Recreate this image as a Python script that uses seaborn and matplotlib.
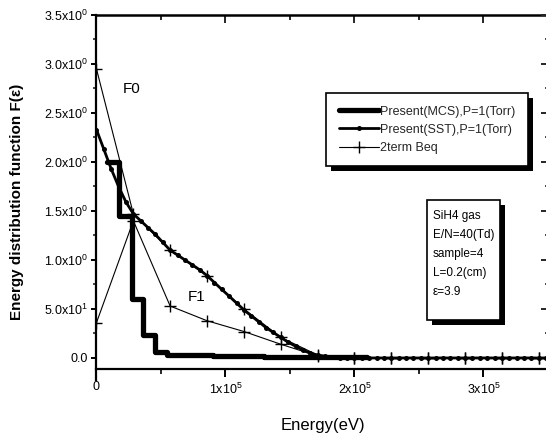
import matplotlib
matplotlib.use('Agg')
import matplotlib.pyplot as plt
import matplotlib.patheffects as pe
from matplotlib.patches import Rectangle
from matplotlib.ticker import MultipleLocator, FixedLocator
import seaborn as sns

# energy axis is in units of 1e5 eV (as on the tick labels)

# Present(MCS) histogram, step edges and heights
mcs_energy = [0.083, 0.176, 0.276, 0.364, 0.457, 0.55, 0.9, 1.3, 1.7, 2.1]
mcs_f = [2.0, 1.45, 0.6, 0.23, 0.065, 0.035, 0.025, 0.012, 0.005, 0.005]

# Present(SST)
sst_energy = [0.0, 0.057, 0.114, 0.171, 0.229, 0.286, 0.343, 0.400, 0.457, 0.514,
              0.571, 0.629, 0.686, 0.743, 0.800, 0.857, 0.914, 0.971, 1.029, 1.086,
              1.143, 1.200, 1.257, 1.314, 1.371, 1.429, 1.486, 1.543, 1.600, 1.657,
              1.714, 1.771, 1.829, 1.886, 1.943, 2.000, 2.057, 2.114, 2.171, 2.229,
              2.286, 2.343, 2.400, 2.457, 2.514, 2.571, 2.629, 2.686, 2.743, 2.800,
              2.857, 2.914, 2.971, 3.029, 3.086, 3.143, 3.200, 3.257, 3.314, 3.371,
              3.429, 3.486]
sst_f = [2.33, 2.13, 1.93, 1.75, 1.59, 1.47, 1.40, 1.33, 1.26, 1.18,
         1.10, 1.05, 1.00, 0.95, 0.90, 0.84, 0.77, 0.70, 0.63, 0.56,
         0.49, 0.43, 0.37, 0.31, 0.26, 0.21, 0.16, 0.12, 0.08, 0.05,
         0.03, 0.015, 0.008, 0.004, 0.002, 0.001, 0.0, 0.0, 0.0, 0.0,
         0.0, 0.0, 0.0, 0.0, 0.0, 0.0, 0.0, 0.0, 0.0, 0.0,
         0.0, 0.0, 0.0, 0.0, 0.0, 0.0, 0.0, 0.0, 0.0, 0.0,
         0.0, 0.0]

# 2term Boltzmann equation, F0 and F1
beq_energy = [0.0, 0.286, 0.571, 0.857, 1.143, 1.429, 1.714, 2.0, 2.286, 2.571, 2.857, 3.143, 3.429]
beq_f0 = [2.95, 1.47, 1.10, 0.84, 0.50, 0.21, 0.03, 0.0, 0.0, 0.0, 0.0, 0.0, 0.0]
beq_f1 = [0.36, 1.40, 0.53, 0.38, 0.27, 0.14, 0.02, 0.0, 0.0, 0.0, 0.0, 0.0, 0.0]

legend_labels = ['Present(MCS),P=1(Torr)', 'Present(SST),P=1(Torr)', '2term Beq']
info_lines = ['SiH4 gas', 'E/N=40(Td)', 'sample=4', 'L=0.2(cm)', 'ε=3.9']

y_ticks = [0.0, 0.5, 1.0, 1.5, 2.0, 2.5, 3.0, 3.5]
y_ticklabels = ['0.0', '5.0x10$^{1}$', '1.0x10$^{0}$', '1.5x10$^{0}$', '2.0x10$^{0}$',
                '2.5x10$^{0}$', '3.0x10$^{0}$', '3.5x10$^{0}$']
x_ticks = [0, 1, 2, 3]
x_ticklabels = ['0', '1x10$^{5}$', '2x10$^{5}$', '3x10$^{5}$']

sns.set_theme(style='ticks')
plt.rcParams['font.family'] = ['Liberation Sans', 'DejaVu Sans']
plt.rcParams['mathtext.fontset'] = 'custom'
plt.rcParams['mathtext.rm'] = 'Liberation Sans'
plt.rcParams['mathtext.it'] = 'Liberation Sans'

fig = plt.figure(figsize=(5.46, 4.36), dpi=100)
ax = fig.add_axes([0.1767, 0.1284, 0.8269, 0.8372])

sns.lineplot(x=mcs_energy, y=mcs_f, ax=ax, color='black', lw=3.8,
             drawstyle='steps-post', estimator=None, sort=False)
h_mcs = ax.lines[-1]
sns.lineplot(x=sst_energy, y=sst_f, ax=ax, color='black', lw=2.0, marker='o',
             markersize=3.6, markeredgewidth=0, markerfacecolor='black',
             estimator=None, sort=False)
h_sst = ax.lines[-1]
sns.lineplot(x=beq_energy, y=beq_f0, ax=ax, color='black', lw=0.8, marker='+',
             markersize=8, markeredgewidth=1.0, markeredgecolor='black',
             estimator=None, sort=False)
h_beq = ax.lines[-1]
sns.lineplot(x=beq_energy, y=beq_f1, ax=ax, color='black', lw=0.8, marker='+',
             markersize=8, markeredgewidth=1.0, markeredgecolor='black',
             estimator=None, sort=False)

ax.text(0.20, 2.70, 'F0', fontsize=11, color='black')
ax.text(0.71, 0.58, 'F1', fontsize=11, color='black')

ax.set_xlim(0, 3.5)
ax.set_ylim(-0.225, 3.5)

# spines
for s in ['left', 'bottom']:
    ax.spines[s].set_linewidth(1.6)
    ax.spines[s].set_color('black')
ax.spines['bottom'].set_position(('data', -0.112))
ax.spines['top'].set_visible(False)
ax.spines['right'].set_visible(False)

ax.set_xticks(x_ticks)
ax.set_xticklabels(x_ticklabels)
ax.xaxis.set_minor_locator(FixedLocator([0.5, 1.5, 2.5]))
ax.set_yticks(y_ticks)
ax.set_yticklabels(y_ticklabels)
ax.yaxis.set_minor_locator(MultipleLocator(0.25))
ax.tick_params(axis='x', which='major', direction='out', length=6, width=1.4,
               pad=3, labelsize=9, colors='black', top=False)
ax.tick_params(axis='x', which='minor', direction='out', length=3.5, width=1.4, top=False)
ax.tick_params(axis='y', which='major', direction='out', length=3.6, width=1.4,
               pad=2.5, labelsize=9, colors='black', right=False)
ax.tick_params(axis='y', which='minor', direction='out', length=2.2, width=1.2, right=False)
ax.set_xlabel('')
ax.set_ylabel('')

# top and right axes with inward ticks
top = ax.secondary_xaxis('top')
top.set_xticks(x_ticks[1:])
top.xaxis.set_minor_locator(FixedLocator([0.5, 1.5, 2.5]))
top.tick_params(which='major', direction='in', length=6, width=1.4, labeltop=False)
top.tick_params(which='minor', direction='in', length=3.5, width=1.4)
top.spines['top'].set_linewidth(1.8)
top.spines['top'].set_color('black')

right = ax.secondary_yaxis('right')
right.set_yticks(y_ticks)
right.yaxis.set_minor_locator(MultipleLocator(0.25))
right.tick_params(which='major', direction='in', length=5, width=1.4, labelright=False)
right.tick_params(which='minor', direction='in', length=2.5, width=1.2)
right.spines['right'].set_linewidth(1.6)
right.spines['right'].set_color('black')

fig.text(17 / 546, 1 - 202 / 436, 'Energy distribution function F(ε)', rotation=90,
         ha='center', va='center', fontsize=11, fontweight='bold', color='black')
fig.text(323 / 546, 1 - 425 / 436, 'Energy(eV)', ha='center', va='center',
         fontsize=12, color='black')

shadow = [pe.SimplePatchShadow(offset=(3.6, -3.6), shadow_rgbFace='black', alpha=1.0),
          pe.Normal()]

leg = ax.legend([h_mcs, h_sst, h_beq], legend_labels, loc='upper left',
                bbox_to_anchor=(326 / 546, 1 - 93 / 436), bbox_transform=fig.transFigure,
                borderaxespad=0, fontsize=9, handlelength=3.2, handletextpad=0.15,
                labelspacing=0.5, borderpad=1.0, fancybox=False, framealpha=1,
                edgecolor='black')
leg.get_frame().set_linewidth(1.2)
leg.get_frame().set_path_effects(shadow)

box = Rectangle((427 / 546, 1 - 320 / 436), 73 / 546, 120 / 436, transform=fig.transFigure,
                facecolor='white', edgecolor='black', lw=1.2, zorder=5)
box.set_path_effects(shadow)
fig.add_artist(box)
for i, line in enumerate(info_lines):
    fig.text(433 / 546, 1 - (216 + 19 * i) / 436, line, ha='left', va='center',
             fontsize=8.5, color='black', zorder=6)

fig.savefig('out.png', dpi=100, facecolor='white')
